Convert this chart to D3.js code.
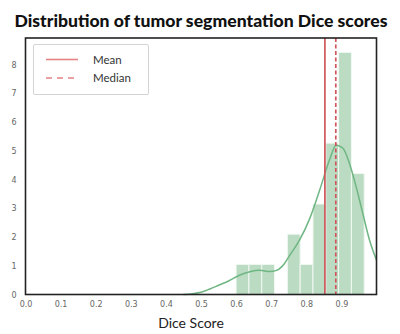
<!DOCTYPE html>
<html>
<head>
<meta charset="utf-8">
<script src="https://cdn.jsdelivr.net/npm/d3@7"></script>
<style>
  html, body { margin: 0; padding: 0; background: #fff; }
  #chart { width: 400px; height: 334px; }
</style>
</head>
<body>
<div id="chart"></div>
<script>
// histogram bins (edges) and density heights
const binEdges = [0.6, 0.6365, 0.673, 0.7095, 0.746, 0.7825, 0.819, 0.8555, 0.892, 0.9285, 0.965];
const densities = [1.05, 1.05, 1.05, 0, 2.1, 1.05, 3.15, 5.27, 8.43, 4.21];

// kde curve
const kdeX = [0.45, 0.475, 0.5, 0.525, 0.55, 0.58, 0.611, 0.639, 0.667, 0.696, 0.715, 0.738, 0.752, 0.781, 0.81, 0.838, 0.866, 0.885, 0.904, 0.923, 0.942, 0.961, 0.98, 1.0];
const kdeY = [0, 0.03, 0.08, 0.19, 0.32, 0.48, 0.68, 0.79, 0.84, 0.8, 0.84, 1.08, 1.35, 1.9, 2.65, 3.63, 4.68, 5.2, 5.1, 4.56, 3.75, 2.82, 1.9, 1.2];

const meanScore = 0.853;
const medianScore = 0.884;

const xTicks = [0, 0.1, 0.2, 0.3, 0.4, 0.5, 0.6, 0.7, 0.8, 0.9];
const yTicks = [0, 1, 2, 3, 4, 5, 6, 7, 8];

const legendItems = [
    { label: 'Mean', dash: null },
    { label: 'Median', dash: '6,5' }
];

function drawChart() {
    const width = 400, height = 334;
    const plot = { left: 25.5, right: 376.5, top: 38, bottom: 294.5 };

    const svg = d3.select('#chart').append('svg')
        .attr('width', width)
        .attr('height', height);

    const x = d3.scaleLinear().domain([0, 1.0]).range([plot.left, plot.right]);
    const y = d3.scaleLinear().domain([0, 8.93]).range([plot.bottom, plot.top]);

    // Title
    const title = svg.append('text')
        .attr('x', 201)
        .attr('y', 27)
        .attr('text-anchor', 'middle')
        .style('font-family', 'Lato, sans-serif')
        .style('font-weight', '900')
        .style('font-size', '16px')
        .style('fill', '#111')
        .text('Distribution of tumor segmentation Dice scores');
    const tw = title.node().getComputedTextLength();
    title.style('font-size', (16 * 373 / tw).toFixed(2) + 'px');

    // Histogram bars
    const bins = densities.map((d, i) => ({ x0: binEdges[i], x1: binEdges[i + 1], v: d }));
    svg.append('g').selectAll('rect')
        .data(bins.filter(d => d.v > 0))
        .join('rect')
        .attr('x', d => x(d.x0))
        .attr('width', d => x(d.x1) - x(d.x0))
        .attr('y', d => y(d.v))
        .attr('height', d => y(0) - y(d.v))
        .attr('fill', '#bbdcc3')
        .attr('stroke', '#f2f8f3')
        .attr('stroke-width', 1);

    // KDE line
    const kde = kdeX.map((v, i) => [v, kdeY[i]]);
    const line = d3.line()
        .x(d => x(d[0]))
        .y(d => y(d[1]))
        .curve(d3.curveMonotoneX);
    svg.append('path')
        .datum(kde)
        .attr('d', line)
        .attr('fill', 'none')
        .attr('stroke', '#6fb683')
        .attr('stroke-width', 1.5);

    // Mean / median lines
    svg.append('line')
        .attr('x1', x(meanScore)).attr('x2', x(meanScore))
        .attr('y1', plot.top).attr('y2', plot.bottom)
        .attr('stroke', '#cf565a')
        .attr('stroke-width', 1.7);
    svg.append('line')
        .attr('x1', x(medianScore)).attr('x2', x(medianScore))
        .attr('y1', plot.top).attr('y2', plot.bottom)
        .attr('stroke', '#cf565a')
        .attr('stroke-width', 1.7)
        .attr('stroke-dasharray', '4,2.5');

    // Axes (labels only, no tick marks)
    const xAxis = svg.append('g')
        .attr('transform', `translate(0,${plot.bottom})`)
        .call(d3.axisBottom(x).tickValues(xTicks).tickSize(0).tickPadding(7).tickFormat(d3.format('.1f')));
    const yAxis = svg.append('g')
        .attr('transform', `translate(${plot.left},0)`)
        .call(d3.axisLeft(y).tickValues(yTicks).tickSize(0).tickPadding(9));
    [xAxis, yAxis].forEach(a => {
        a.select('.domain').remove();
        a.selectAll('text')
            .style('font-family', '"DejaVu Sans", sans-serif')
            .style('font-size', '8px')
            .style('fill', '#666');
    });

    // Frame
    svg.append('rect')
        .attr('x', plot.left)
        .attr('y', plot.top)
        .attr('width', plot.right - plot.left)
        .attr('height', plot.bottom - plot.top)
        .attr('fill', 'none')
        .attr('stroke', '#222')
        .attr('stroke-width', 1.6);

    // Axis label
    svg.append('text')
        .attr('x', 191)
        .attr('y', 328)
        .attr('text-anchor', 'middle')
        .style('font-family', 'Lato, sans-serif')
        .style('font-size', '14px')
        .style('fill', '#222')
        .text('Dice Score');

    // Legend
    const legend = svg.append('g');
    legend.append('rect')
        .attr('x', 33.5).attr('y', 44.5)
        .attr('width', 115).attr('height', 50)
        .attr('rx', 1.5)
        .attr('fill', '#fff')
        .attr('stroke', '#d4d4d4')
        .attr('stroke-width', 1);
    const rows = legend.selectAll('g.item')
        .data(legendItems)
        .join('g')
        .attr('class', 'item')
        .attr('transform', (d, i) => `translate(0,${59.5 + i * 18.5})`);
    rows.append('line')
        .attr('x1', 46).attr('x2', 78)
        .attr('stroke', '#e58284')
        .attr('stroke-width', 1.6)
        .attr('stroke-dasharray', d => d.dash);
    rows.append('text')
        .attr('x', 93)
        .attr('dy', '0.35em')
        .style('font-family', 'Lato, sans-serif')
        .style('font-size', '11.5px')
        .style('fill', '#333')
        .text(d => d.label);
}

drawChart();
</script>
</body>
</html>
